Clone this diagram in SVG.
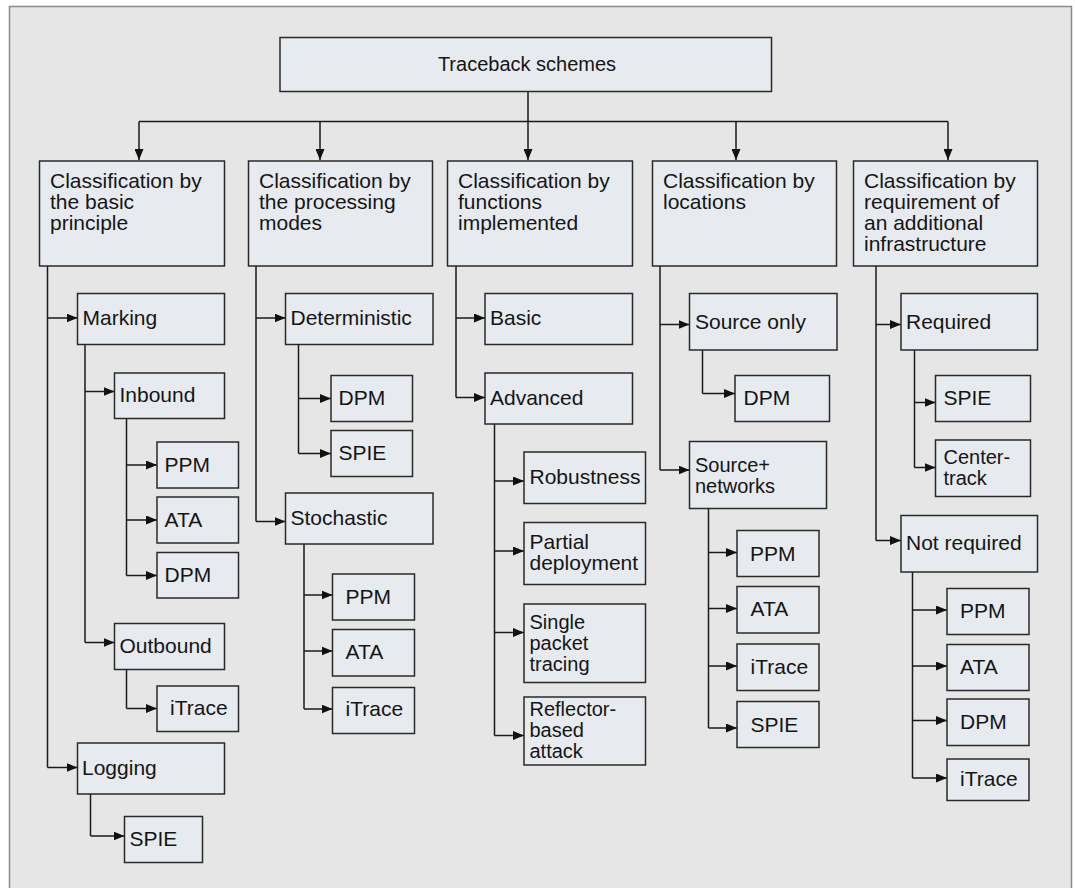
<svg xmlns="http://www.w3.org/2000/svg" width="1075" height="888" viewBox="0 0 1075 888">
<style>
.bg{fill:#e6e6e6;stroke:#8a8a8a;stroke-width:1.5}
.node rect{fill:#e7ebef;stroke:#2a2a2a;stroke-width:1.5}
.node text{font-family:"Liberation Sans",Arial,sans-serif;font-size:21px;fill:#151515}
.node text.title{font-size:20px}
.node text.ml{font-size:20px}
.conn line,.conn path{stroke:#1a1a1a;stroke-width:1.5;fill:none}
.arr{marker-end:url(#ah)}
</style>
<defs>
<marker id="ah" markerUnits="userSpaceOnUse" markerWidth="11" markerHeight="9" refX="11" refY="4.5" orient="auto">
<path d="M0,0 L11,4.5 L0,9 z" fill="#111"/>
</marker>
</defs>
<rect class="bg" x="9.5" y="6.5" width="1062" height="895"/>

<g class="conn">
<line class="arr" x1="528" y1="91.5" x2="528" y2="160"/>
<line x1="139" y1="121.5" x2="948" y2="121.5"/>
<line class="arr" x1="139" y1="121.5" x2="139" y2="160"/>
<line class="arr" x1="320" y1="121.5" x2="320" y2="160"/>
<line class="arr" x1="736" y1="121.5" x2="736" y2="160"/>
<line class="arr" x1="948" y1="121.5" x2="948" y2="160"/>
<line x1="47.5" y1="266" x2="47.5" y2="767.5"/>
<line class="arr" x1="47.5" y1="318" x2="77.5" y2="318"/>
<line class="arr" x1="47.5" y1="767.5" x2="77.5" y2="767.5"/>
<line x1="85" y1="344.5" x2="85" y2="642.5"/>
<line class="arr" x1="85" y1="391.5" x2="114.5" y2="391.5"/>
<line class="arr" x1="85" y1="642.5" x2="114.5" y2="642.5"/>
<line x1="126.5" y1="418.5" x2="126.5" y2="575.5"/>
<line class="arr" x1="126.5" y1="465" x2="157" y2="465"/>
<line class="arr" x1="126.5" y1="520" x2="157" y2="520"/>
<line class="arr" x1="126.5" y1="575.5" x2="157" y2="575.5"/>
<line x1="126.5" y1="669.5" x2="126.5" y2="708.5"/>
<line class="arr" x1="126.5" y1="708.5" x2="157" y2="708.5"/>
<line x1="90.5" y1="794" x2="90.5" y2="836"/>
<line class="arr" x1="90.5" y1="836" x2="124.5" y2="836"/>
<line x1="256" y1="266" x2="256" y2="521.5"/>
<line class="arr" x1="256" y1="318" x2="285.5" y2="318"/>
<line class="arr" x1="256" y1="521.5" x2="285.5" y2="521.5"/>
<line x1="298.5" y1="344.5" x2="298.5" y2="453.5"/>
<line class="arr" x1="298.5" y1="398.5" x2="331" y2="398.5"/>
<line class="arr" x1="298.5" y1="453.5" x2="331" y2="453.5"/>
<line x1="304" y1="544" x2="304" y2="709"/>
<line class="arr" x1="304" y1="595" x2="332.5" y2="595"/>
<line class="arr" x1="304" y1="651" x2="332.5" y2="651"/>
<line class="arr" x1="304" y1="709" x2="332.5" y2="709"/>
<line x1="456" y1="266" x2="456" y2="397.5"/>
<line class="arr" x1="456" y1="318" x2="485" y2="318"/>
<line class="arr" x1="456" y1="397.5" x2="485" y2="397.5"/>
<line x1="494.5" y1="424" x2="494.5" y2="735.5"/>
<line class="arr" x1="494.5" y1="481" x2="524" y2="481"/>
<line class="arr" x1="494.5" y1="551" x2="524" y2="551"/>
<line class="arr" x1="494.5" y1="632.5" x2="524" y2="632.5"/>
<line class="arr" x1="494.5" y1="735.5" x2="524" y2="735.5"/>
<line x1="660" y1="266" x2="660" y2="470"/>
<line class="arr" x1="660" y1="324.5" x2="689.5" y2="324.5"/>
<line class="arr" x1="660" y1="470" x2="689.5" y2="470"/>
<line x1="702.5" y1="350" x2="702.5" y2="393.5"/>
<line class="arr" x1="702.5" y1="393.5" x2="735" y2="393.5"/>
<line x1="708.5" y1="508.5" x2="708.5" y2="728"/>
<line class="arr" x1="708.5" y1="552.5" x2="737" y2="552.5"/>
<line class="arr" x1="708.5" y1="608.5" x2="737" y2="608.5"/>
<line class="arr" x1="708.5" y1="666" x2="737" y2="666"/>
<line class="arr" x1="708.5" y1="728" x2="737" y2="728"/>
<line x1="876" y1="266" x2="876" y2="540.5"/>
<line class="arr" x1="876" y1="324.5" x2="901" y2="324.5"/>
<line class="arr" x1="876" y1="540.5" x2="901" y2="540.5"/>
<line x1="914.5" y1="350" x2="914.5" y2="467.5"/>
<line class="arr" x1="914.5" y1="402.5" x2="935.5" y2="402.5"/>
<line class="arr" x1="914.5" y1="467.5" x2="935.5" y2="467.5"/>
<line x1="912.5" y1="572" x2="912.5" y2="778"/>
<line class="arr" x1="912.5" y1="610" x2="947" y2="610"/>
<line class="arr" x1="912.5" y1="666" x2="947" y2="666"/>
<line class="arr" x1="912.5" y1="720.5" x2="947" y2="720.5"/>
<line class="arr" x1="912.5" y1="778" x2="947" y2="778"/>
</g>

<g id="root" class="node"><rect x="280" y="37.5" width="491.5" height="54"/><text class="title" x="527" y="70.5" text-anchor="middle">Traceback schemes</text></g>

<g id="c1" class="node"><rect x="39.5" y="161" width="185" height="105"/><text x="50" y="188">Classification by</text><text x="50" y="209">the basic</text><text x="50" y="230">principle</text></g>
<g id="c2" class="node"><rect x="248.5" y="161" width="184" height="105"/><text x="259" y="188">Classification by</text><text x="259" y="209">the processing</text><text x="259" y="230">modes</text></g>
<g id="c3" class="node"><rect x="447.5" y="161" width="185" height="105"/><text x="458" y="188">Classification by</text><text x="458" y="209">functions</text><text x="458" y="230">implemented</text></g>
<g id="c4" class="node"><rect x="652.5" y="161" width="184" height="105"/><text x="663" y="188">Classification by</text><text x="663" y="209">locations</text></g>
<g id="c5" class="node"><rect x="853.5" y="161" width="184" height="105"/><text x="864" y="188">Classification by</text><text x="864" y="209">requirement of</text><text x="864" y="230">an additional</text><text x="864" y="251">infrastructure</text></g>

<g id="marking" class="node"><rect x="77.5" y="293.5" width="147" height="51"/><text x="82.5" y="325">Marking</text></g>
<g id="inbound" class="node"><rect x="114.5" y="373" width="110" height="45.5"/><text x="119.5" y="402">Inbound</text></g>
<g id="ppm1" class="node"><rect x="157" y="442" width="81.5" height="46"/><text x="164.5" y="472">PPM</text></g>
<g id="ata1" class="node"><rect x="157" y="497" width="81.5" height="46"/><text x="164.5" y="526.5">ATA</text></g>
<g id="dpm1" class="node"><rect x="157" y="552.5" width="81.5" height="45.5"/><text x="164.5" y="581.5">DPM</text></g>
<g id="outbound" class="node"><rect x="114.5" y="623.5" width="110" height="46"/><text x="119.5" y="652.5">Outbound</text></g>
<g id="itrace1" class="node"><rect x="157" y="686" width="81.5" height="45.5"/><text x="170" y="715">iTrace</text></g>
<g id="logging" class="node"><rect x="77.5" y="743" width="147" height="51"/><text x="82" y="775">Logging</text></g>
<g id="spie1" class="node"><rect x="124.5" y="816.5" width="78" height="46"/><text x="129.5" y="845.5">SPIE</text></g>

<g id="deterministic" class="node"><rect x="285.5" y="293.5" width="147.5" height="51"/><text x="290.5" y="324.5">Deterministic</text></g>
<g id="dpm2" class="node"><rect x="331" y="375.5" width="81.5" height="46"/><text x="338.5" y="405">DPM</text></g>
<g id="spie2" class="node"><rect x="331" y="430.5" width="81.5" height="46"/><text x="338.5" y="460">SPIE</text></g>
<g id="stochastic" class="node"><rect x="285.5" y="493" width="147.5" height="51"/><text x="290.5" y="525">Stochastic</text></g>
<g id="ppm2" class="node"><rect x="332.5" y="574" width="82" height="46"/><text x="345.5" y="604">PPM</text></g>
<g id="ata2" class="node"><rect x="332.5" y="629.5" width="82" height="46.5"/><text x="345.5" y="659">ATA</text></g>
<g id="itrace2" class="node"><rect x="332.5" y="687.5" width="82" height="46"/><text x="345.5" y="716">iTrace</text></g>

<g id="basic" class="node"><rect x="485" y="293.5" width="147.5" height="51"/><text x="490" y="325">Basic</text></g>
<g id="advanced" class="node"><rect x="485" y="373" width="147.5" height="51"/><text x="490" y="405">Advanced</text></g>
<g id="robustness" class="node"><rect x="524" y="452" width="121.5" height="51.5"/><text x="529.5" y="484">Robustness</text></g>
<g id="partial" class="node"><rect x="524" y="522.5" width="121.5" height="62"/><text x="529.5" y="549">Partial</text><text x="529.5" y="570">deployment</text></g>
<g id="single" class="node"><rect x="524" y="604" width="121.5" height="78.5"/><text class="ml" x="529.5" y="628.5">Single</text><text class="ml" x="529.5" y="649.5">packet</text><text class="ml" x="529.5" y="670.5">tracing</text></g>
<g id="reflector" class="node"><rect x="524" y="697" width="121.5" height="68"/><text class="ml" x="529.5" y="716">Reflector-</text><text class="ml" x="529.5" y="737">based</text><text class="ml" x="529.5" y="758">attack</text></g>

<g id="srconly" class="node"><rect x="689.5" y="293.5" width="147.5" height="56.5"/><text x="695" y="328.5">Source only</text></g>
<g id="dpm4" class="node"><rect x="735" y="375.5" width="94.5" height="46"/><text x="743.5" y="405">DPM</text></g>
<g id="srcnet" class="node"><rect x="689.5" y="441.5" width="137" height="67"/><text class="ml" x="695" y="472">Source+</text><text class="ml" x="695" y="493">networks</text></g>
<g id="ppm4" class="node"><rect x="737" y="530.5" width="82" height="46"/><text x="750" y="561">PPM</text></g>
<g id="ata4" class="node"><rect x="737" y="586.5" width="82" height="46.5"/><text x="750.5" y="615.5">ATA</text></g>
<g id="itrace4" class="node"><rect x="737" y="644" width="82" height="46.5"/><text x="750.5" y="674">iTrace</text></g>
<g id="spie4" class="node"><rect x="737" y="701.5" width="82" height="46"/><text x="750.5" y="731.5">SPIE</text></g>

<g id="required" class="node"><rect x="901" y="293.5" width="136.5" height="56.5"/><text x="906" y="328.5">Required</text></g>
<g id="spie5" class="node"><rect x="935.5" y="375.5" width="95" height="46"/><text x="943.5" y="405">SPIE</text></g>
<g id="centertrack" class="node"><rect x="935.5" y="440" width="95" height="56.5"/><text class="ml" x="943.5" y="464">Center-</text><text class="ml" x="943.5" y="485">track</text></g>
<g id="notrequired" class="node"><rect x="901" y="515.5" width="136.5" height="56.5"/><text x="906" y="549.5">Not required</text></g>
<g id="ppm5" class="node"><rect x="947" y="588.5" width="82" height="46"/><text x="960" y="617.5">PPM</text></g>
<g id="ata5" class="node"><rect x="947" y="644.5" width="82" height="46"/><text x="960" y="673.5">ATA</text></g>
<g id="dpm5" class="node"><rect x="947" y="699" width="82" height="46.5"/><text x="960" y="728.5">DPM</text></g>
<g id="itrace5" class="node"><rect x="947" y="759" width="82" height="41.5"/><text x="960" y="786">iTrace</text></g>
</svg>
